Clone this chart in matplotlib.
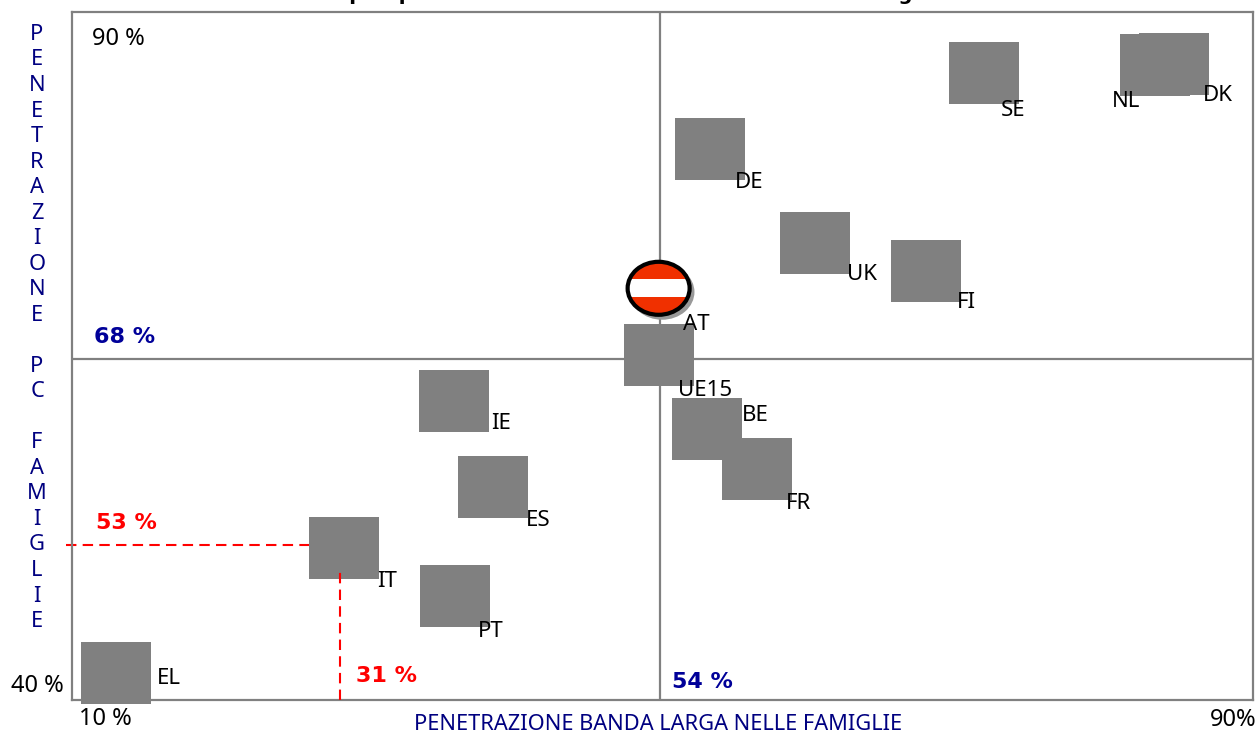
import matplotlib
matplotlib.use("Agg")
import matplotlib.pyplot as plt
from matplotlib.patches import Ellipse, Rectangle
from matplotlib.path import Path

# chart values, in percent (x = broadband, y = PC)
countries = ["SE", "DK", "NL", "DE", "UK", "FI", "UE15", "IE", "BE", "FR", "ES", "IT", "PT", "EL"]
broadband = [77.45, 91.2, 89.8, 57.6, 65.2, 73.2, 53.95, 39.1, 57.4, 61.0, 41.9, 31.15, 39.15, 14.65]
pc_homes = [91.1, 91.8, 91.7, 84.9, 77.35, 75.1, 68.3, 64.6, 62.35, 59.1, 57.7, 52.75, 48.9, 42.7]
at_broadband = 53.9
at_pc = 73.7
avg_broadband = 54
avg_pc = 68
it_broadband = 31
it_pc = 53

W, H = 1257, 734
FONT = "Noto Sans"
BOLD = "DejaVu Sans"
GREY = "#808080"
NAVY = "#000080"
BLUE = "#000099"
RED = "#FF0000"

# label offsets from the marker centre, in pixels (y up)
label_offsets = {
    "SE": (29, -38), "DK": (43, -32), "NL": (-29, -36), "DE": (39, -33),
    "UK": (47, -31), "FI": (41, -32), "UE15": (46, -35), "IE": (47, -22),
    "BE": (48, 14), "FR": (42, -34), "ES": (46, -34), "IT": (43, -33),
    "PT": (36, -36), "EL": (53, -6),
}

plt.rcParams["font.family"] = FONT


def px(x, y):
    return x / W, 1 - y / H


fig = plt.figure(figsize=(W / 100, H / 100), dpi=100)
ax = fig.add_axes([72 / W, 1 - 700 / H, 1181 / W, 688 / H])
ax.set_xlim(11.48, 96.88)
ax.set_ylim(40.5, 95.98)
ax.set_xticks([])
ax.set_yticks([])
for s in ax.spines.values():
    s.set_color(GREY)
    s.set_linewidth(1.6)

ax.axvline(avg_broadband, color=GREY, lw=1.6, zorder=1)
ax.axhline(avg_pc, color=GREY, lw=1.6, zorder=1)

# red guides for Italy
ax.plot([11.05, it_broadband], [it_pc, it_pc], color=RED, lw=1.5, ls=(0, (5, 3)), clip_on=False, zorder=2)

box = Path([(-35, -31), (35, -31), (35, 31), (-35, 31), (-35, -31)], closed=True)
ax.scatter(broadband, pc_homes, marker=box, s=(70 * 0.72) ** 2, color=GREY, linewidths=0, clip_on=False, zorder=3)

ax.plot([it_broadband - 0.15, it_broadband - 0.15], [40.5, 50.8], color=RED, lw=1.5, ls=(0, (5, 3)), clip_on=False, zorder=4)

for c, x, y in zip(countries, broadband, pc_homes):
    ax.annotate(c, (x, y), xytext=label_offsets[c], textcoords="offset pixels",
                ha="center", va="center", fontsize=16, color="black", zorder=6, annotation_clip=False)

# Austria marker with the flag
ew, eh = 62 / 13.83, 53 / 12.4
ax.add_patch(Ellipse((at_broadband + 0.25, at_pc - 0.3), ew + 0.2, eh + 0.2, color="#999999", lw=0, zorder=4))
flag = Ellipse((at_broadband, at_pc), ew, eh, fc="#F03000", ec="none", zorder=5)
ax.add_patch(flag)
band = Rectangle((at_broadband - 3, at_pc - 0.73), 6, 1.46, fc="white", ec="none", zorder=5.1)
ax.add_patch(band)
band.set_clip_path(flag)
ax.add_patch(Ellipse((at_broadband, at_pc), ew, eh, fc="none", ec="black", lw=3, zorder=5.2))
ax.annotate("AT", (at_broadband, at_pc), xytext=(38, -36), textcoords="offset pixels",
            ha="center", va="center", fontsize=16, zorder=6)

# free text around the plot, title runs off the top of the picture
fig.text(*px(316, 0), "Le prospettive di diffusione del PC e della banda larga", fontsize=14.3,
         family=BOLD, fontweight="bold", ha="left", va="baseline")
fig.text(*px(37, 328), "\n".join("PENETRAZIONE PC FAMIGLIE"), color=NAVY, fontsize=15.7,
         ha="center", va="center", linespacing=1.283, multialignment="center")
fig.text(*px(658, 725), "PENETRAZIONE BANDA LARGA NELLE FAMIGLIE", color=NAVY, fontsize=15.7, ha="center", va="center")
fig.text(*px(118, 39), "90 %", fontsize=17, ha="center", va="center")
fig.text(*px(37, 686), "40 %", fontsize=17, ha="center", va="center")
fig.text(*px(105, 719), "10 %", fontsize=17, ha="center", va="center")
fig.text(*px(1233, 720), "90%", fontsize=17, ha="center", va="center")
for label, x, y, col in [("68 %", 125, 337, BLUE), ("54 %", 702, 682, BLUE),
                         ("53 %", 126, 523, RED), ("31 %", 387, 676, RED)]:
    fig.text(*px(x, y), label, fontsize=16, family=BOLD, fontweight="bold", color=col, ha="center", va="center")

fig.savefig("out.png", dpi=100)
